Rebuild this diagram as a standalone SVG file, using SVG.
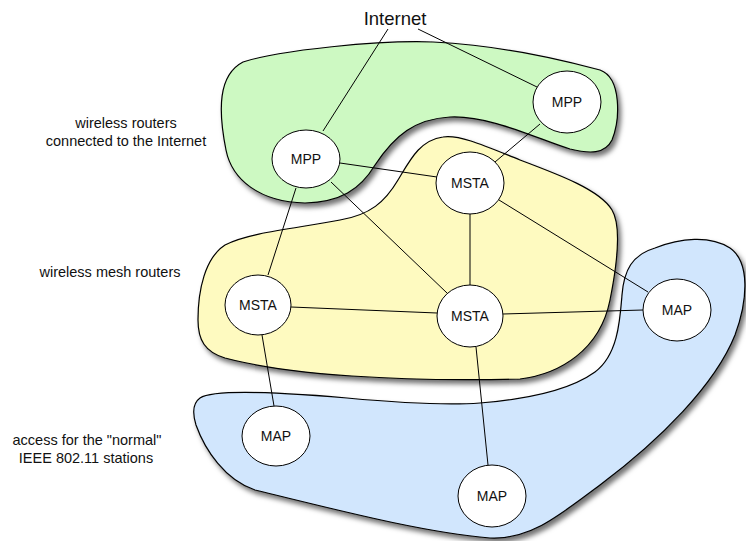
<svg xmlns="http://www.w3.org/2000/svg" width="746" height="541" viewBox="0 0 746 541">
<defs>
<filter id="sh" x="-10%" y="-10%" width="130%" height="130%">
<feDropShadow dx="3" dy="4" stdDeviation="2.5" flood-color="#000" flood-opacity="0.55"/>
</filter>
<style>
.region{stroke:#000;stroke-width:1.2;filter:url(#sh)}
.node ellipse{fill:#fff;stroke:#000;stroke-width:1}
.node text{font-family:"Liberation Sans",Arial,sans-serif;font-size:14px;text-anchor:middle;fill:#111}
.lbl{font-family:"Liberation Sans",Arial,sans-serif;font-size:14.5px;text-anchor:middle;fill:#111}
#connectors line{stroke:#000;stroke-width:1}
</style>
</defs>
<rect width="746" height="541" fill="#fff"/>
<g id="regions">
<path id="green" class="region" fill="#cdf9c2" d="M243,62 C280,50 380,40 433,42 C500,45 570,62 600,70 C622,78 620,120 612,140 C605,154 590,154 570,149 C540,140 490,115 450,117 C415,119 395,135 375,165 C360,190 340,202 305,203 C260,202 232,180 226,150 C218,110 218,75 243,62 Z"/>
<path id="yellow" class="region" fill="#fefac0" d="M443,137 C420,140 410,160 398,180 C385,202 370,215 340,220 C300,228 250,232 225,245 C205,258 198,290 198,320 C198,340 205,352 225,358 C290,375 400,382 520,379 C560,374 600,350 610,300 C618,260 621,225 612,210 C600,190 560,175 520,160 C490,148 460,134 443,137 Z"/>
<path id="blue" class="region" fill="#d1e6fd" d="M200,398 C215,388 300,394 347,398 C390,402 440,406 480,403 C530,399 570,390 595,372 C618,355 620,320 622,295 C624,270 632,255 655,248 C680,238 710,235 730,248 C750,262 748,300 735,335 C715,385 660,440 600,485 C560,515 530,540 490,538 C420,532 330,508 255,490 C225,480 205,450 196,425 C192,412 193,403 200,398 Z"/>
</g>
<g id="connectors">
<line x1="388" y1="29" x2="323" y2="131"/>
<line x1="418" y1="29" x2="537" y2="87"/>
<line x1="340" y1="163" x2="437" y2="177"/>
<line x1="540" y1="124" x2="495" y2="162"/>
<line x1="296" y1="188" x2="268" y2="275"/>
<line x1="331" y1="182" x2="447" y2="293"/>
<line x1="470" y1="214" x2="470" y2="285"/>
<line x1="499" y1="200" x2="648" y2="292"/>
<line x1="291" y1="307" x2="437" y2="313"/>
<line x1="503" y1="314" x2="643" y2="310"/>
<line x1="262" y1="335" x2="274" y2="406"/>
<line x1="476" y1="347" x2="488" y2="465"/>
</g>
<text class="lbl" x="395" y="25" style="font-size:18.5px">Internet</text>
<g id="mpp1" class="node"><ellipse cx="306" cy="159" rx="34" ry="29"/><text x="306" y="164">MPP</text></g>
<g id="mpp2" class="node"><ellipse cx="567" cy="102" rx="34" ry="31"/><text x="567" y="107">MPP</text></g>
<g id="msta1" class="node"><ellipse cx="470" cy="183" rx="34" ry="31"/><text x="470" y="188">MSTA</text></g>
<g id="msta2" class="node"><ellipse cx="258" cy="305" rx="33" ry="30"/><text x="258" y="310">MSTA</text></g>
<g id="msta3" class="node"><ellipse cx="470" cy="316" rx="33" ry="31"/><text x="470" y="321">MSTA</text></g>
<g id="map1" class="node"><ellipse cx="677" cy="310" rx="34" ry="31"/><text x="677" y="315">MAP</text></g>
<g id="map2" class="node"><ellipse cx="276" cy="436" rx="34" ry="30"/><text x="276" y="441">MAP</text></g>
<g id="map3" class="node"><ellipse cx="492" cy="496" rx="34" ry="31"/><text x="492" y="501">MAP</text></g>
<text class="lbl" x="126" y="128">wireless routers</text>
<text class="lbl" x="126" y="146">connected to the Internet</text>
<text class="lbl" x="110" y="277">wireless mesh routers</text>
<text class="lbl" x="87" y="445">access for the "normal"</text>
<text class="lbl" x="86" y="463">IEEE 802.11 stations</text>
</svg>
